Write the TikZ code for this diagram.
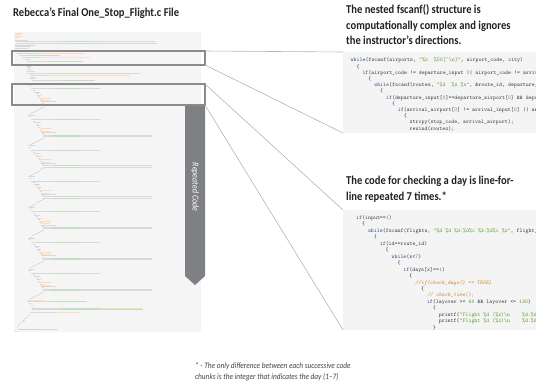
\documentclass[tikz,border=0pt]{standalone}
\usepackage{fontspec}
\setmainfont{Carlito}
\newfontfamily\tfont{Carlito}[FakeStretch=0.88]
\frenchspacing
\definecolor{ttl}{HTML}{231F20}
\definecolor{minibg}{HTML}{F5F5F5}
\definecolor{panelbg}{HTML}{F4F4F4}
\definecolor{boxc}{HTML}{8A8A8A}
\definecolor{linkc}{HTML}{B4B4B4}
\definecolor{barc}{HTML}{7E8084}
\definecolor{kwc}{HTML}{2E4F8F}
\definecolor{stc}{HTML}{5E9E2E}
\definecolor{cmc}{HTML}{C8842A}
\definecolor{txc}{HTML}{3A3A3A}
\newcommand\kw[1]{\textcolor{kwc}{#1}}
\newcommand\st[1]{\textcolor{stc}{#1}}
\newcommand\cmt[1]{\textcolor{cmc}{\itshape #1}}
\newcommand\ml[4]{\draw[#1] (#2,#4) -- (#3,#4);}
\begin{document}
\begin{tikzpicture}[x=1pt,y=-1pt,
  title/.style={font=\tfont\bfseries\fontsize{12}{13}\selectfont, text=ttl, inner sep=0pt, anchor=base west},
  code/.style={font=\ttfamily\fontsize{5.6}{6}\selectfont, text=txc, inner sep=0pt, anchor=base west},
  foot/.style={font=\tfont\itshape\fontsize{8.3}{9}\selectfont, text=ttl!85, inner sep=0pt, anchor=base west},
  hbox/.style={draw=boxc, line width=1.1pt, inner sep=0pt, outer sep=0pt, anchor=north west},
  panel/.style={fill=panelbg, inner sep=0pt, outer sep=0pt, anchor=north west},
  link/.style={draw=linkc, line width=0.6pt},
  mg/.style={draw=black!15, line width=0.5pt},
  mgr/.style={draw=green!40!black!22, line width=0.5pt},
  mo/.style={draw=orange!28, line width=0.5pt},
  mp/.style={draw=magenta!15, line width=0.5pt},
  bartext/.style={font=\tfont\itshape\fontsize{9}{10}\selectfont, text=white, inner sep=0pt}
]
\useasboundingbox (0,0) rectangle (536,385);

% ---- titles
\node[title] (t1) at (13,17) {Rebecca’s Final One\_Stop\_Flight.c File};
\node[title] (t2a) at (346,14) {The nested fscanf() structure is};
\node[title] (t2b) at (346,29.5) {computationally complex and ignores};
\node[title] (t2c) at (346,45) {the instructor’s directions.};
\node[title] (t3a) at (346,185) {The code for checking a day is line-for-};
\node[title] (t3b) at (346,200.5) {line repeated 7 times.*};

% ---- miniature of the file
\node[panel, fill=minibg, minimum width=187pt, minimum height=300pt] (mini) at (14,32) {};
\ml{mo}{15}{23}{33}
\ml{mo}{15}{21}{34.5}
\ml{mo}{15}{22}{36}
\ml{mo}{15}{19}{37.5}
\ml{mg}{15}{28}{40}
\ml{mg}{16}{60}{41.5}\ml{mgr}{60}{90}{41.5}\ml{mg}{90}{155}{41.5}
\ml{mg}{16}{70}{43}\ml{mgr}{70}{100}{43}\ml{mg}{100}{157}{43}
\ml{mgr}{15}{35}{45}
\ml{mg}{15}{30}{46.5}
\ml{mg}{15}{28}{48}
\ml{mg}{16}{38}{53.5}\ml{mo}{38}{85}{53.5}
\ml{mg}{19}{30}{55.5}\ml{mgr}{30}{60}{55.5}
\ml{mg}{22}{40}{57.5}\ml{mp}{40}{90}{57.5}
\ml{mg}{25}{30}{59.5}
\ml{mg}{27}{50}{61.5}\ml{mgr}{50}{83}{61.5}
\ml{mg}{27}{31}{66}
\ml{mg}{27}{31}{67.5}
\ml{mg}{27}{31}{69}
\ml{mg}{27}{35}{71}
\ml{mg}{27}{50}{73}\ml{mgr}{50}{90}{73}\ml{mg}{90}{140}{73}
\ml{mg}{30}{50}{75}\ml{mo}{50}{130}{75}
\ml{mg}{30}{35}{77}
\ml{mg}{30}{36}{78.5}
\ml{mg}{32}{60}{80.5}\ml{mgr}{60}{95}{80.5}
\foreach \k in {0,...,6}{
  \pgfmathsetmacro\y{84+30.8*\k}
  \ml{mg}{28}{35}{\y}
  \ml{mg}{29}{31}{\y+1.7}
  \ml{mg}{31}{52}{\y+4.5}\ml{mgr}{52}{80}{\y+4.5}\ml{mg}{80}{100}{\y+4.5}
  \ml{mg}{33}{35}{\y+6.3}
  \ml{mg}{34}{40}{\y+7.8}
  \ml{mg}{36}{38}{\y+9.3}
  \ml{mg}{37}{41}{\y+10.8}
  \ml{mg}{38}{40}{\y+12.3}
  \ml{mo}{39}{52}{\y+13.8}
  \ml{mg}{40}{42}{\y+15.3}
  \ml{mo}{41}{50}{\y+16.5}
  \ml{mg}{41}{56}{\y+17.7}
  \ml{mg}{42}{44}{\y+18.9}
  \ml{mg}{43}{52}{\y+20.1}\ml{mgr}{52}{80}{\y+20.1}\ml{mg}{80}{152}{\y+20.1}
  \ml{mg}{43}{52}{\y+21.5}\ml{mgr}{52}{80}{\y+21.5}\ml{mg}{80}{152}{\y+21.5}
  \foreach \j in {0,...,6}{\ml{mg}{42-2*\j}{43.5-2*\j}{\y+23+1.1*\j}}
}
\ml{mo}{27}{43}{300}
\ml{mg}{28}{50}{301.5}\ml{mgr}{50}{87}{301.5}
\ml{mg}{29}{31}{303}
\ml{mg}{31}{33}{305}
\ml{mg}{32}{60}{308}\ml{mgr}{60}{100}{308}\ml{mo}{100}{143}{308}
\ml{mg}{32}{60}{309.5}\ml{mgr}{60}{143}{309.5}
\ml{mg}{30}{55}{312.5}\ml{mo}{55}{80}{312.5}
\foreach \j in {0,...,9}{\ml{mg}{28-1.2*\j}{29.5-1.2*\j}{315+1.2*\j}}
\ml{mgr}{18}{40}{329.5}\ml{mg}{40}{58}{329.5}
\ml{mg}{15}{17}{331}

% ---- repeated code bar
\fill[barc] (185,105) -- (205,105) -- (205,276) -- (195,285) -- (185,276) -- cycle;
\node[bartext, rotate=-90] (rep) at (195,187) {Repeated Code};

% ---- highlight boxes
\node[hbox, minimum width=193pt, minimum height=14pt] (box1) at (12,51) {};
\node[hbox, minimum width=193pt, minimum height=21pt] (box2) at (12,84) {};

% ---- zoomed panels
\node[panel, minimum width=193pt, minimum height=81pt] (pan1) at (343,52) {};
\node[panel, minimum width=193pt, minimum height=120pt] (pan2) at (343,210) {};

% ---- connectors
\draw[link] (box1.north east) -- (pan1.north west);
\draw[link] (box1.south east) -- (pan1.south west);
\draw[link] (box2.north east) -- (pan2.north west);
\draw[link] (box2.south east) -- (pan2.south west);

% ---- panel 1 code
\begin{scope}
\clip (343,52) rectangle (536,133);
\def\xa{350.5}\def\wc{2.95}\def\ya{62}\def\dy{6.2}
\node[code] (a1) at ({\xa},{\ya}) {\kw{while}(fscanf(airports, \st{"\%s\ \ \%50[\textasciicircum\textbackslash n]"}, airport\_code, city)};
\node[code] (a2) at ({\xa+2*\wc},{\ya+\dy}) {\{};
\node[code] (a3) at ({\xa+4*\wc},{\ya+2*\dy}) {\kw{if}(airport\_code != departure\_input || airport\_code != arrival\_input)};
\node[code] (a4) at ({\xa+6*\wc},{\ya+3*\dy}) {\{};
\node[code] (a5) at ({\xa+8*\wc},{\ya+4*\dy}) {\kw{while}(fscanf(routes, \st{"\%d\ \ \%s \%s"}, \&route\_id, departure\_airport, arrival\_airport)};
\node[code] (a6) at ({\xa+10*\wc},{\ya+5*\dy}) {\{};
\node[code] (a7) at ({\xa+12*\wc},{\ya+6*\dy}) {\kw{if}(departure\_input[\st{0}]==departure\_airport[\st{0}] \&\& departure\_input[\st{1}]};
\node[code] (a8) at ({\xa+14*\wc},{\ya+7*\dy}) {\{};
\node[code] (a9) at ({\xa+16*\wc},{\ya+8*\dy}) {\kw{if}(arrival\_airport[\st{0}] != arrival\_input[\st{0}] || arrival\_airport};
\node[code] (a10) at ({\xa+18*\wc},{\ya+9*\dy}) {\{};
\node[code] (a11) at ({\xa+20*\wc},{\ya+10*\dy}) {strcpy(stop\_code, arrival\_airport);};
\node[code] (a12) at ({\xa+20*\wc},{\ya+11*\dy}) {rewind(routes);};
\end{scope}

% ---- panel 2 code
\begin{scope}
\clip (343,210) rectangle (536,330);
\def\xb{356}\def\wc{2.95}\def\yb{219.5}\def\dy{6.45}
\node[code] (b1) at ({\xb},{\yb}) {\kw{if}(input==\st{1})};
\node[code] (b2) at ({\xb+2*\wc},{\yb+\dy}) {\{};
\node[code] (b3) at ({\xb+4*\wc},{\yb+2*\dy}) {\kw{while}(fscanf(flights, \st{"\%d \%d \%d:\%d\%c \%d:\%d\%c \%s"}, flight\_id, \&route\_id)};
\node[code] (b4) at ({\xb+6*\wc},{\yb+3*\dy}) {\{};
\node[code] (b5) at ({\xb+8*\wc},{\yb+4*\dy}) {\kw{if}(id==route\_id)};
\node[code] (b6) at ({\xb+10*\wc},{\yb+5*\dy}) {\{};
\node[code] (b7) at ({\xb+12*\wc},{\yb+6*\dy}) {\kw{while}(x<\st{7})};
\node[code] (b8) at ({\xb+14*\wc},{\yb+7*\dy}) {\{};
\node[code] (b9) at ({\xb+16*\wc},{\yb+8*\dy}) {\kw{if}(days[x]==\st{1})};
\node[code] (b10) at ({\xb+18*\wc},{\yb+9*\dy}) {\{};
\node[code] (b11) at ({\xb+20*\wc},{\yb+10*\dy}) {\cmt{//if(check\_days() == TRUE)}};
\node[code] (b12) at ({\xb+22*\wc},{\yb+11*\dy}) {\{};
\node[code] (b13) at ({\xb+24*\wc},{\yb+12*\dy}) {\cmt{// check\_time();}};
\node[code] (b14) at ({\xb+24*\wc},{\yb+13*\dy}) {\kw{if}(layover >= \st{60} \&\& layover <= \st{120})};
\node[code] (b15) at ({\xb+26*\wc},{\yb+14*\dy}) {\{};
\node[code] (b16) at ({\xb+28*\wc},{\yb+15*\dy}) {printf(\st{"Flight \%d (\%s)\textbackslash n\ \ \ \ \%d:\%d\%c"});};
\node[code] (b17) at ({\xb+28*\wc},{\yb+16*\dy}) {printf(\st{"Flight \%d (\%s)\textbackslash n\ \ \ \ \%d:\%d\%c"});};
\node[code] (b18) at ({\xb+26*\wc},{\yb+17*\dy}) {\}};
\end{scope}

% ---- footnote
\node[foot] (fn1) at (195,368.5) {* - The only difference between each successive code};
\node[foot] (fn2) at (195,379.5) {chunks is the integer that indicates the day (1–7)};
\end{tikzpicture}
\end{document}
